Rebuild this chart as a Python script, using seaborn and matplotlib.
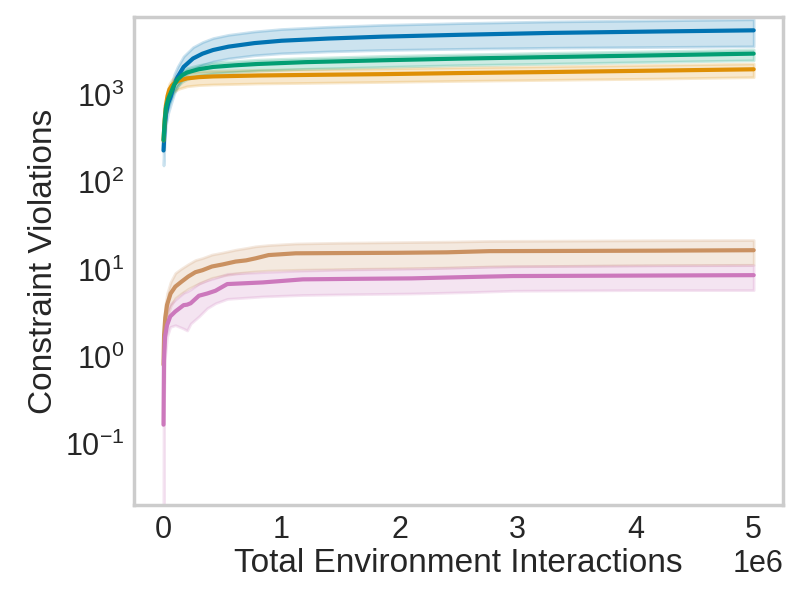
import matplotlib
matplotlib.use("Agg")
import matplotlib.pyplot as plt
import seaborn as sns
import numpy as np

# --- data (x in 1e6 interactions)
blue_x = [0, 0.01, 0.02, 0.04, 0.06, 0.09, 0.12, 0.17, 0.25, 0.33, 0.42, 0.55,
          0.77, 1.0, 1.4, 1.85, 2.5, 3.28, 4.2, 5.0]
blue_mean = [230, 420, 600, 800, 944, 1300, 1600, 2080, 2600, 2950, 3250, 3550,
             3900, 4150, 4400, 4620, 4850, 5100, 5300, 5460]
blue_lo = [155, 300, 450, 620, 760, 1030, 1250, 1600, 1950, 2200, 2400, 2600,
           2830, 2980, 3130, 3250, 3350, 3450, 3520, 3580]
blue_hi = [300, 560, 780, 1030, 1200, 1700, 2100, 2750, 3500, 4000, 4450, 4850,
           5300, 5650, 6000, 6300, 6600, 6900, 7100, 7300]

green_x = [0, 0.01, 0.02, 0.04, 0.06, 0.09, 0.12, 0.16, 0.2, 0.3, 0.42, 0.6,
           0.8, 1.2, 1.85, 2.5, 3.28, 4.2, 5.0]
green_mean = [302, 500, 700, 900, 1040, 1300, 1500, 1680, 1800, 1960, 2080, 2170,
              2250, 2360, 2480, 2590, 2700, 2830, 2955]
green_lo = [250, 420, 590, 760, 880, 1090, 1260, 1410, 1510, 1650, 1750, 1820,
            1890, 1980, 2080, 2180, 2270, 2380, 2480]
green_hi = [350, 570, 800, 1010, 1170, 1450, 1680, 1870, 2020, 2190, 2330, 2420,
            2520, 2630, 2780, 2890, 3020, 3150, 3290]

orange_x = [0, 0.01, 0.02, 0.035, 0.05, 0.07, 0.09, 0.13, 0.2, 0.3, 0.42, 0.8,
            1.3, 1.85, 2.5, 3.28, 4.2, 5.0]
orange_mean = [300, 520, 750, 980, 1150, 1270, 1350, 1450, 1540, 1590, 1620, 1660,
               1690, 1720, 1770, 1820, 1890, 1955]
orange_lo = [230, 400, 580, 780, 920, 1030, 1090, 1170, 1250, 1290, 1310, 1345,
             1370, 1400, 1440, 1480, 1530, 1590]
orange_hi = [360, 620, 880, 1140, 1340, 1480, 1570, 1690, 1790, 1850, 1880, 1930,
             1960, 2000, 2060, 2120, 2200, 2275]

brown_x = [0, 0.005, 0.015, 0.03, 0.06, 0.1, 0.15, 0.21, 0.27, 0.33, 0.41, 0.5,
           0.61, 0.7, 0.78, 0.89, 1.12, 1.5, 1.97, 2.4, 2.76, 3.5, 4.2, 5.0]
brown_mean = [0.81, 1.8, 2.8, 3.93, 5.3, 6.36, 7.2, 8.3, 9.3, 9.8, 10.8, 11.4,
              12.3, 12.7, 13.4, 14.6, 15.3, 15.4, 15.5, 15.7, 16.2, 16.3, 16.4, 16.6]
brown_lo = [0.5, 1.2, 1.9, 2.8, 3.8, 4.7, 5.3, 6.0, 6.6, 7.2, 8.0, 8.5,
            9.0, 9.3, 9.5, 9.7, 9.9, 10.1, 10.3, 10.5, 10.8, 11.0, 11.2, 11.3]
brown_hi = [1.2, 2.6, 3.9, 5.3, 7.2, 9.1, 10.2, 11.5, 12.8, 13.5, 14.8, 15.6,
            16.8, 17.6, 18.4, 19.0, 19.8, 20.2, 20.5, 20.8, 21.2, 21.4, 21.6, 21.7]

pink_x = [0, 0.004, 0.013, 0.03, 0.057, 0.1, 0.17, 0.2, 0.23, 0.3, 0.37, 0.44,
          0.54, 0.84, 1.18, 1.6, 2.1, 2.6, 2.96, 4.0, 5.0]
pink_mean = [0.167, 0.9, 1.7, 2.3, 2.9, 3.3, 3.9, 3.95, 4.1, 5.0, 5.3, 5.7,
             6.8, 7.1, 7.7, 7.8, 7.9, 8.2, 8.4, 8.5, 8.6]
pink_lo = [0.001, 0.3, 1.0, 1.7, 2.2, 2.3, 2.1, 2.0, 2.4, 2.9, 3.6, 4.1,
           4.6, 4.9, 5.1, 5.2, 5.3, 5.5, 5.7, 5.8, 5.8]
pink_hi = [0.5, 1.8, 2.8, 3.4, 4.0, 4.5, 5.4, 5.6, 5.9, 6.9, 7.5, 8.0,
           8.9, 9.3, 9.7, 10.0, 10.2, 10.6, 10.9, 11.1, 11.2]

sns.set_theme(context="poster", style="whitegrid")
plt.rcParams["font.family"] = ["Liberation Sans", "DejaVu Sans"]

pal = sns.color_palette("colorblind")
series = [
    (blue_x, blue_mean, blue_lo, blue_hi, pal[0]),
    (orange_x, orange_mean, orange_lo, orange_hi, pal[1]),
    (green_x, green_mean, green_lo, green_hi, pal[2]),
    (brown_x, brown_mean, brown_lo, brown_hi, pal[5]),
    (pink_x, pink_mean, pink_lo, pink_hi, pal[4]),
]

fig, ax = plt.subplots(figsize=(8, 6), dpi=100)

for xs, mean, lo, hi, col in series:
    xs = np.array(xs) * 1e6
    sns.lineplot(x=xs, y=mean, color=col, linewidth=3, ax=ax)
    ax.fill_between(xs, lo, hi, color=col, alpha=0.2)

ax.set_yscale("log")
ax.set_ylim(0.02, 7800)
ax.grid(False)
ax.tick_params(axis="both", length=0, pad=7)
ax.set_xlabel("Total Environment Interactions", labelpad=2)
ax.set_ylabel("Constraint Violations")

fig.subplots_adjust(left=0.1675, right=0.979, top=0.972, bottom=0.158)
fig.savefig("out.png", dpi=100)
